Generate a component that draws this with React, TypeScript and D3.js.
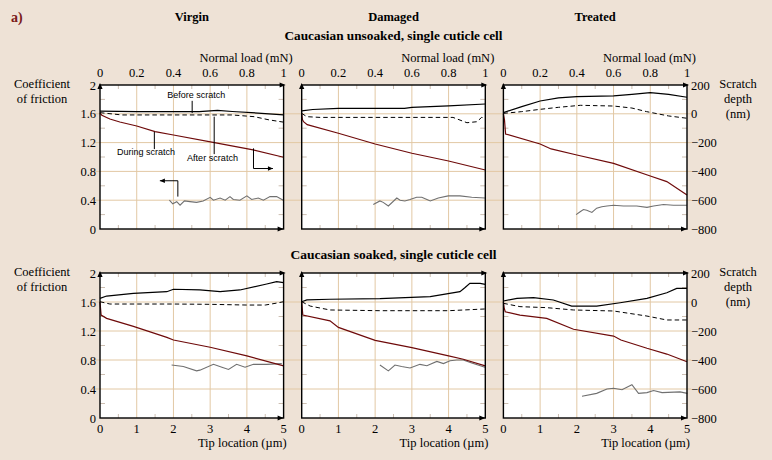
import React from 'react';
import * as d3 from 'd3';

type Pt = [number, number];

// ---------- labels / ticks ----------
const columnTitles = ['Virgin', 'Damaged', 'Treated'];
const rowTitles = ['Caucasian unsoaked, single cuticle cell', 'Caucasian soaked, single cuticle cell'];
const loadTicks = [0, 0.2, 0.4, 0.6, 0.8, 1];
const tipTicks = [0, 1, 2, 3, 4, 5];
const cofTicks = [0, 0.4, 0.8, 1.2, 1.6, 2];
const cofMinor = [0.2, 0.6, 1.0, 1.4, 1.8];
const tipMinor = [0.5, 1.5, 2.5, 3.5, 4.5];
const depthTicks = [200, 0, -200, -400, -600, -800];

// ---------- data: x = tip location (µm), y = scratch depth (nm) or CoF ----------
const unsoakedVirginBefore: Pt[] = [[0, 19], [0.5, 17], [1, 15], [2, 15], [2.7, 15], [3.0, 20], [3.2, 24], [3.6, 16], [4.3, 5], [5, -8]];
const unsoakedVirginAfter: Pt[] = [[0, 8], [0.3, 0], [0.6, -8], [2, -8], [3.6, -8], [4.2, -20], [4.6, -42], [5, -58]];
const unsoakedVirginDuring: Pt[] = [[0, 5], [0.05, -10], [0.27, -36], [0.54, -57], [1, -85], [1.5, -124], [2, -147], [3.08, -198], [4.17, -251], [5, -302]];
const unsoakedVirginCof: Pt[] = [[1.89, 0.40], [1.98, 0.35], [2.09, 0.38], [2.18, 0.33], [2.3, 0.39], [2.45, 0.38], [2.63, 0.37], [2.81, 0.39], [3.0, 0.44], [3.09, 0.40], [3.27, 0.43], [3.41, 0.40], [3.54, 0.45], [3.63, 0.41], [3.81, 0.40], [4.0, 0.46], [4.13, 0.41], [4.31, 0.43], [4.45, 0.40], [4.63, 0.45], [4.81, 0.45], [4.99, 0.40]];

const unsoakedDamagedBefore: Pt[] = [[0, 20], [0.3, 30], [1, 38], [2.8, 38], [3.0, 44], [4, 55], [5, 68]];
const unsoakedDamagedAfter: Pt[] = [[0, 3], [0.14, -20], [0.5, -25], [2, -25], [4.12, -25], [4.5, -62], [4.77, -55], [4.9, -25], [5, -30]];
const unsoakedDamagedDuring: Pt[] = [[0, 0], [0.02, -40], [0.05, -55], [0.15, -75], [1, -135], [2, -210], [3, -274], [4, -328], [5, -390]];
const unsoakedDamagedCof: Pt[] = [[1.95, 0.34], [2.13, 0.39], [2.22, 0.37], [2.36, 0.32], [2.59, 0.43], [2.68, 0.40], [2.81, 0.39], [2.95, 0.41], [3.13, 0.44], [3.27, 0.44], [3.41, 0.41], [3.5, 0.39], [3.72, 0.43], [3.99, 0.46], [4.31, 0.46], [4.63, 0.44], [4.99, 0.43]];

const unsoakedTreatedBefore: Pt[] = [[0, 8], [0.5, 50], [1, 89], [1.5, 110], [2, 119], [3, 124], [3.5, 135], [4, 147], [4.5, 135], [5, 115]];
const unsoakedTreatedAfter: Pt[] = [[0, 3], [0.5, 15], [1, 31], [1.5, 45], [2.1, 59], [3, 54], [3.5, 40], [3.9, 15], [4.5, -15], [5, -31]];
const unsoakedTreatedDuring: Pt[] = [[0, 0], [0.03, -43], [0.06, -140], [1, -210], [1.3, -244], [2, -286], [3, -344], [4, -432], [4.45, -471], [5, -564]];
const unsoakedTreatedCof: Pt[] = [[1.98, 0.20], [2.09, 0.24], [2.18, 0.27], [2.27, 0.26], [2.41, 0.23], [2.54, 0.29], [2.68, 0.31], [2.82, 0.32], [3.0, 0.33], [3.27, 0.32], [3.63, 0.32], [3.91, 0.30], [4.09, 0.32], [4.36, 0.34], [4.63, 0.33], [5.0, 0.33]];

const soakedVirginBefore: Pt[] = [[0, 25], [0.18, 41], [0.91, 60], [1.82, 71], [2.0, 88], [2.72, 83], [3.27, 71], [3.81, 83], [4.54, 124], [4.81, 140], [5, 133]];
const soakedVirginAfter: Pt[] = [[0, 2], [0.27, -14], [1, -14], [2, -14], [3, -16], [4, -21], [4.5, -21], [4.8, -8], [5, 2]];
const soakedVirginDuring: Pt[] = [[0, 0], [0.03, -90], [0.18, -113], [0.91, -168], [1.82, -244], [2.0, -262], [3.0, -312], [4.0, -372], [5, -441]];
const soakedVirginCof: Pt[] = [[1.95, 0.73], [2.27, 0.71], [2.63, 0.65], [2.72, 0.66], [3.09, 0.74], [3.32, 0.70], [3.5, 0.67], [3.72, 0.74], [3.95, 0.70], [4.18, 0.74], [4.54, 0.74], [4.95, 0.75]];

const soakedDamagedBefore: Pt[] = [[0, 2], [0.14, 14], [0.77, 19], [2.13, 23], [3.5, 37], [4.31, 71], [4.45, 100], [4.58, 129], [4.86, 129], [5, 122]];
const soakedDamagedAfter: Pt[] = [[0, 2], [0.23, -28], [0.77, -55], [2.13, -60], [4, -60], [5, -48]];
const soakedDamagedDuring: Pt[] = [[0, 0], [0.03, -90], [0.77, -130], [1.0, -175], [2.0, -265], [3.0, -315], [4.0, -372], [4.4, -395], [5, -441]];
const soakedDamagedCof: Pt[] = [[2.13, 0.73], [2.36, 0.65], [2.54, 0.73], [2.72, 0.71], [2.95, 0.69], [3.22, 0.74], [3.41, 0.72], [3.68, 0.78], [3.86, 0.75], [4.04, 0.79], [4.22, 0.80], [4.4, 0.80], [4.63, 0.76], [4.99, 0.70]];

const soakedTreatedBefore: Pt[] = [[0, 7], [0.37, 25], [0.82, 30], [1.36, 14], [1.86, -28], [2.54, -28], [3.18, -5], [3.91, 25], [4.45, 64], [4.72, 94], [5, 94]];
const soakedTreatedAfter: Pt[] = [[0, -9], [0.45, -32], [1.18, -39], [1.91, -55], [3.0, -62], [3.91, -97], [4.45, -124], [5, -124]];
const soakedTreatedDuring: Pt[] = [[0, 0], [0.02, -40], [0.05, -67], [0.45, -90], [1.18, -113], [1.91, -188], [3.0, -235], [3.2, -262], [3.91, -319], [4.45, -359], [5, -412]];
const soakedTreatedCof: Pt[] = [[2.14, 0.30], [2.54, 0.34], [2.82, 0.40], [3.0, 0.41], [3.23, 0.39], [3.5, 0.46], [3.68, 0.34], [3.91, 0.35], [4.09, 0.38], [4.32, 0.35], [4.81, 0.36], [5.01, 0.34]];

const panelData = [
  [
    { before: unsoakedVirginBefore, after: unsoakedVirginAfter, during: unsoakedVirginDuring, cof: unsoakedVirginCof },
    { before: unsoakedDamagedBefore, after: unsoakedDamagedAfter, during: unsoakedDamagedDuring, cof: unsoakedDamagedCof },
    { before: unsoakedTreatedBefore, after: unsoakedTreatedAfter, during: unsoakedTreatedDuring, cof: unsoakedTreatedCof },
  ],
  [
    { before: soakedVirginBefore, after: soakedVirginAfter, during: soakedVirginDuring, cof: soakedVirginCof },
    { before: soakedDamagedBefore, after: soakedDamagedAfter, during: soakedDamagedDuring, cof: soakedDamagedCof },
    { before: soakedTreatedBefore, after: soakedTreatedAfter, during: soakedTreatedDuring, cof: soakedTreatedCof },
  ],
];

// annotations (data units: x in µm, y in CoF) for first panel
const annotationLabels = [
  { text: 'Before scratch', x: 1.83, y: 1.82, w: 58, leader: [[2.51, 1.78], [2.51, 1.61]] as Pt[] },
  { text: 'During scratch', x: 0.46, y: 1.03, w: 58, leader: [[1.48, 1.35], [1.48, 1.11]] as Pt[] },
  { text: 'After scratch', x: 2.37, y: 0.94, w: 51, leader: [[3.11, 1.56], [3.11, 1.04]] as Pt[] },
];
const axisArrows: Pt[][] = [
  [[4.18, 1.12], [4.18, 0.84], [4.71, 0.84]],
  [[2.12, 0.45], [2.12, 0.67], [1.63, 0.67]],
];

// ---------- layout ----------
const W = 772, H = 460;
const panelLeft0 = 100, panelWidth = 183.6, panelStep = 201.7;
const rowTop = [85, 273], rowBottom = [229, 418];
const BG = '#eee2d6';
const GRID = '#e2c8a4';
const MINOR = '#cdbfb2';
const RED = '#6e0a0a';
const GRAY = '#707070';
const SERIF = '"Liberation Serif", "Times New Roman", serif';
const SANS = '"Liberation Sans", Arial, sans-serif';
const fmt = d3.format('');

function arrowHead(tip: Pt, dir: 'up' | 'right' | 'left', size = 6, half = 2.6) {
  const [x, y] = tip;
  if (dir === 'up') return `M${x},${y}L${x - half},${y + size}L${x + half},${y + size}Z`;
  if (dir === 'right') return `M${x},${y}L${x - size},${y - half}L${x - size},${y + half}Z`;
  return `M${x},${y}L${x + size},${y - half}L${x + size},${y + half}Z`;
}

export default function App() {
  const gridLeft = panelLeft0 - 5;
  const gridRight = panelLeft0 + 2 * panelStep + panelWidth + 4;

  return (
    <svg width={W} height={H} style={{ position: 'absolute', left: 0, top: 0, display: 'block' }}>
      <rect x={0} y={0} width={W} height={H} fill={BG} />
      <text x={11} y={22} fontFamily={SERIF} fontWeight="bold" fontSize={14} fill="#7a1a1a">a)</text>
      {columnTitles.map((t, c) => (
        <text key={t} x={panelLeft0 + c * panelStep + panelWidth / 2} y={21} textAnchor="middle" fontFamily={SERIF} fontWeight="bold" fontSize={12.5}>{t}</text>
      ))}
      {[0, 1].map((r) => {
        const T = rowTop[r], B = rowBottom[r];
        const yCof = d3.scaleLinear().domain([0, 2]).range([B, T]);
        const yDepth = d3.scaleLinear().domain([-800, 200]).range([B, T]);
        const xOf = (c: number) => d3.scaleLinear().domain([0, 5]).range([panelLeft0 + c * panelStep, panelLeft0 + c * panelStep + panelWidth]);
        const loadOf = (c: number) => d3.scaleLinear().domain([0, 1]).range([panelLeft0 + c * panelStep, panelLeft0 + c * panelStep + panelWidth]);
        const firstX = xOf(0);
        const lastX = xOf(2);
        return (
          <g key={r}>
            <text x={panelLeft0 + panelStep + panelWidth / 2} y={r === 0 ? 40 : 259} textAnchor="middle" fontFamily={SERIF} fontWeight="bold" fontSize={12.5} textLength={r === 0 ? 218 : 206} lengthAdjust="spacingAndGlyphs">{rowTitles[r]}</text>
            {[0, 1, 2].map((c) => {
              const x = xOf(c);
              const [L, R] = x.range();
              return <rect key={'p' + c} x={L} y={T} width={R - L} height={B - T} fill="#fff" />;
            })}
            {/* horizontal grid spanning the row */}
            {cofTicks.slice(1, -1).map((v) => (
              <line key={'h' + v} x1={gridLeft} x2={gridRight} y1={yCof(v)} y2={yCof(v)} stroke={GRID} strokeWidth={1} />
            ))}
            {[0, 1, 2].map((c) => {
              const x = xOf(c);
              const [L, R] = x.range();
              const d = panelData[r][c];
              const lineDepth = d3.line<Pt>().x((p) => x(p[0])).y((p) => yDepth(p[1]));
              const lineCof = d3.line<Pt>().x((p) => x(p[0])).y((p) => yCof(p[1]));
              const load = loadOf(c);
              return (
                <g key={'c' + c}>
                  {tipTicks.slice(1, -1).map((t) => (
                    <line key={'v' + t} x1={x(t)} x2={x(t)} y1={T} y2={B} stroke={GRID} strokeWidth={1} />
                  ))}
                  {tipMinor.map((t) => (
                    <g key={'mx' + t}>
                      <line x1={x(t)} x2={x(t)} y1={B} y2={B - 4} stroke={MINOR} />
                      <line x1={x(t)} x2={x(t)} y1={T} y2={T + 4} stroke={MINOR} />
                    </g>
                  ))}
                  {cofMinor.map((v) => (
                    <g key={'my' + v}>
                      <line x1={L} x2={L + 5} y1={yCof(v)} y2={yCof(v)} stroke={MINOR} />
                      <line x1={R - 5} x2={R} y1={yCof(v)} y2={yCof(v)} stroke={MINOR} />
                    </g>
                  ))}
                  <path d={lineCof(d.cof) || ''} fill="none" stroke={GRAY} strokeWidth={1.1} />
                  <path d={lineDepth(d.after) || ''} fill="none" stroke="#000" strokeWidth={1} strokeDasharray="4.5,3" />
                  <path d={lineDepth(d.before) || ''} fill="none" stroke="#000" strokeWidth={1.2} />
                  <path d={lineDepth(d.during) || ''} fill="none" stroke={RED} strokeWidth={1.2} />
                  <rect x={L} y={T} width={R - L} height={B - T} fill="none" stroke="#000" strokeWidth={1.4} />
                  <path d={arrowHead([L, T - 2], 'up')} fill="#000" />
                  <path d={arrowHead([R + 2, T], 'right')} fill="#000" />
                  <path d={arrowHead([R, B], 'right')} fill="#000" />
                  {r === 0 && (
                    <g fontFamily={SERIF} fontSize={12.5}>
                      {loadTicks.map((t) => (
                        <text key={'lt' + t} x={load(t)} y={T - 8} textAnchor="middle">{fmt(t)}</text>
                      ))}
                      <text x={R + 9} y={T - 23} textAnchor="end">Normal load (mN)</text>
                    </g>
                  )}
                  {r === 1 && (
                    <g fontFamily={SERIF} fontSize={12.5}>
                      {tipTicks.map((t) => (
                        <text key={'tt' + t} x={x(t)} y={B + 15} textAnchor="middle">{fmt(t)}</text>
                      ))}
                      <text x={R + 3} y={B + 29} textAnchor="end">Tip location (µm)</text>
                    </g>
                  )}
                  {r === 0 && c === 0 && (
                    <g fontFamily={SANS} fontSize={9}>
                      {annotationLabels.map((a) => (
                        <g key={a.text}>
                          <text x={x(a.x)} y={yCof(a.y)} textLength={a.w} lengthAdjust="spacingAndGlyphs">{a.text}</text>
                          <path d={lineCof(a.leader) || ''} stroke="#000" strokeWidth={1} fill="none" />
                        </g>
                      ))}
                      {axisArrows.map((pts, i) => {
                        const end = pts[pts.length - 1];
                        const prev = pts[pts.length - 2];
                        const dir = end[0] > prev[0] ? 'right' : 'left';
                        return (
                          <g key={'aa' + i}>
                            <path d={lineCof(pts) || ''} stroke="#000" strokeWidth={1} fill="none" />
                            <path d={arrowHead([x(end[0]), yCof(end[1])], dir, 5, 2.2)} fill="#000" />
                          </g>
                        );
                      })}
                    </g>
                  )}
                </g>
              );
            })}
            {/* left axis labels */}
            <g fontFamily={SERIF} fontSize={12.5}>
              {cofTicks.map((v) => (
                <text key={'cl' + v} x={firstX(0) - 4} y={yCof(v) + 4.5} textAnchor="end">{fmt(v)}</text>
              ))}
              <text x={42} y={T + 3} textAnchor="middle">Coefficient</text>
              <text x={42} y={T + 18} textAnchor="middle">of friction</text>
              {depthTicks.map((v) => (
                <text key={'dl' + v} x={lastX(5) + 4} y={yDepth(v) + 4.5} textAnchor="start">{d3.format('')(v)}</text>
              ))}
              <text x={738} y={T + 3} textAnchor="middle">Scratch</text>
              <text x={738} y={T + 18} textAnchor="middle">depth</text>
              <text x={738} y={T + 33} textAnchor="middle">(nm)</text>
            </g>
          </g>
        );
      })}
    </svg>
  );
}
